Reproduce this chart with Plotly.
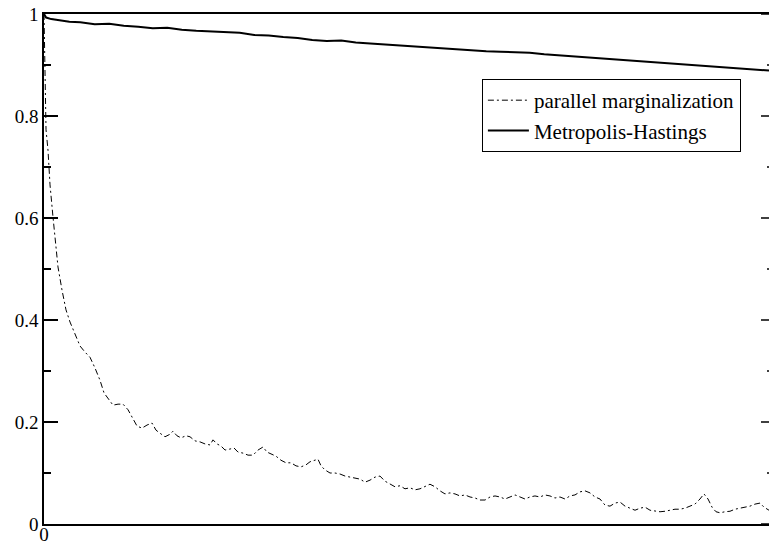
import plotly.graph_objects as go

# ---- data ----
pm_x = [0, 1.4, 2.8, 5.5, 8.3, 12.4, 16.6, 19.3, 24.8, 30.3, 35.9, 42.8, 49.7, 56.6, 63.4, 70.3,
        77.2, 82.8, 88.3, 95.2, 102.1, 109.0, 115.9, 121.4, 128.3, 135.2, 142.1, 149.0, 154.5, 160.0,
        166.9, 173.8, 177.9, 183.4, 189.0, 195.9, 201.4, 208.3, 215.2, 222.1, 229.0, 233.1, 238.6,
        244.1, 249.7, 256.6, 262.1, 267.6, 274.5, 281.4, 288.3, 295.2, 302.1, 307.6, 313.1, 320.0,
        326.9, 333.8, 340.7, 347.6, 354.5, 361.4, 366.9, 372.4, 377.9, 382.1, 387.6, 394.5, 401.4,
        408.3, 415.2, 422.1, 429.0, 435.9, 442.8, 449.7, 456.6, 463.4, 470.3, 477.2, 484.1, 491.0,
        497.9, 504.8, 511.7, 518.6, 525.5, 532.4, 539.3, 546.2, 553.1, 560.0, 566.9, 573.8, 580.7,
        587.6, 594.5, 601.4, 608.3, 615.2, 622.1, 629.0, 635.9, 642.8, 649.7, 656.6, 663.4, 670.3,
        677.2, 684.1, 691.0, 697.9, 704.8, 711.7, 718.6, 725.5, 732.4, 739.3, 746.2, 753.1, 760.0,
        766.9, 773.8, 780.7, 787.6, 794.5, 801.4, 808.3, 815.2, 822.1, 829.0, 835.9, 842.8, 849.7,
        856.6, 863.4, 870.3, 877.2, 884.1, 891.0, 897.9, 904.8, 910.3, 915.9, 921.4, 926.9, 932.4,
        939.3, 946.2, 953.1, 960.0, 966.9, 973.8, 980.7, 987.6, 993.1, 1000]
pm_y = [1.0, 0.831, 0.773, 0.733, 0.665, 0.602, 0.547, 0.504, 0.459, 0.420, 0.396, 0.371, 0.349, 0.337, 0.327, 0.306,
        0.282, 0.257, 0.247, 0.233, 0.235, 0.235, 0.224, 0.210, 0.192, 0.188, 0.194, 0.198, 0.184, 0.178,
        0.171, 0.176, 0.182, 0.173, 0.169, 0.173, 0.171, 0.163, 0.161, 0.157, 0.155, 0.165, 0.157,
        0.153, 0.145, 0.147, 0.149, 0.141, 0.139, 0.135, 0.135, 0.145, 0.151, 0.141, 0.137, 0.133,
        0.125, 0.120, 0.120, 0.114, 0.112, 0.116, 0.122, 0.125, 0.127, 0.114, 0.106, 0.100, 0.100,
        0.098, 0.094, 0.092, 0.090, 0.088, 0.082, 0.086, 0.092, 0.094, 0.084, 0.078, 0.073, 0.075,
        0.069, 0.071, 0.067, 0.069, 0.073, 0.078, 0.073, 0.065, 0.059, 0.061, 0.059, 0.055, 0.057,
        0.053, 0.051, 0.047, 0.047, 0.053, 0.055, 0.053, 0.049, 0.053, 0.057, 0.053, 0.049, 0.053,
        0.055, 0.053, 0.057, 0.055, 0.051, 0.053, 0.049, 0.055, 0.057, 0.063, 0.065, 0.061, 0.053,
        0.049, 0.037, 0.035, 0.041, 0.043, 0.035, 0.031, 0.027, 0.031, 0.033, 0.027, 0.025, 0.024,
        0.025, 0.027, 0.029, 0.029, 0.031, 0.035, 0.039, 0.049, 0.059, 0.049, 0.033, 0.024, 0.022,
        0.024, 0.025, 0.029, 0.031, 0.033, 0.035, 0.039, 0.041, 0.033, 0.027]

mh_x = [0, 3, 10, 20, 35, 50, 70, 90, 110, 130, 150, 170, 190, 210, 230, 250, 270, 290, 310, 330,
        350, 370, 390, 410, 430, 450, 470, 490, 510, 530, 550, 570, 590, 610, 630, 650, 670, 690,
        710, 730, 750, 770, 790, 810, 830, 850, 870, 890, 910, 930, 950, 970, 990, 1000]
mh_y = [1.000, 0.993, 0.990, 0.988, 0.985, 0.984, 0.980, 0.981, 0.977, 0.975, 0.972, 0.973, 0.969,
        0.967, 0.966, 0.964, 0.963, 0.959, 0.958, 0.955, 0.953, 0.949, 0.947, 0.948, 0.944, 0.942,
        0.940, 0.938, 0.936, 0.934, 0.933, 0.931, 0.929, 0.927, 0.926, 0.925, 0.924, 0.921, 0.919,
        0.917, 0.914, 0.912, 0.911, 0.908, 0.906, 0.905, 0.903, 0.900, 0.898, 0.897, 0.895, 0.893,
        0.891, 0.889]

y_tick_vals = [0, 0.2, 0.4, 0.6, 0.8, 1]
y_tick_text = ["0", "0.2", "0.4", "0.6", "0.8", "1"]
y_minor_vals = [0.1, 0.3, 0.5, 0.7, 0.9]
x_tick_vals = [0]
x_tick_text = ["0"]

FONT = "Liberation Serif, Times New Roman, serif"

fig = go.Figure()
fig.add_trace(go.Scatter(x=pm_x, y=pm_y, mode="lines", name="parallel marginalization",
                         line=dict(color="black", width=1, dash="6px,3px,2px,3px")))
fig.add_trace(go.Scatter(x=mh_x, y=mh_y, mode="lines", name="Metropolis-Hastings",
                         line=dict(color="black", width=2)))

# right-side mirrored ticks (the right axis sits just beyond the visible frame)
shapes = []
for v in y_tick_vals:
    shapes.append(dict(type="line", xref="paper", yref="y", xsizemode="pixel", xanchor=1,
                       x0=-8, x1=0, y0=v, y1=v, line=dict(color="black", width=1.5)))
for v in y_minor_vals:
    shapes.append(dict(type="line", xref="paper", yref="y", xsizemode="pixel", xanchor=1,
                       x0=-2, x1=0, y0=v, y1=v, line=dict(color="black", width=1.5)))

fig.update_layout(
    width=769, height=546,
    margin=dict(l=44, r=0, t=14, b=22),
    paper_bgcolor="white", plot_bgcolor="white",
    font=dict(family=FONT, size=19, color="black"),
    showlegend=True,
    legend=dict(x=0.604, y=0.8725, xanchor="left", yanchor="top",
                bgcolor="white", bordercolor="black", borderwidth=1,
                font=dict(family=FONT, size=21, color="black"),
                itemwidth=41, tracegroupgap=0),
    shapes=shapes,
    xaxis=dict(range=[0, 1000], tickvals=x_tick_vals, ticktext=x_tick_text, ticks="", ticklen=0,
               ticklabelstandoff=-8,
               showgrid=False, zeroline=False, showline=True, linecolor="black", linewidth=1.5,
               mirror=True, automargin=False, tickfont=dict(family=FONT, size=19)),
    yaxis=dict(range=[0, 1], tickvals=y_tick_vals, ticktext=y_tick_text, ticks="inside",
               ticklen=14, tickcolor="black", tickwidth=1.5,
               minor=dict(tickvals=y_minor_vals, ticks="inside", ticklen=7, tickcolor="black", tickwidth=1.5),
               showgrid=False, zeroline=False, showline=True, linecolor="black", linewidth=1.5,
               automargin=False, tickfont=dict(family=FONT, size=19)),
)

# remove the default page margin so the figure fills the window exactly
fig.write_html("out.html", config={"displayModeBar": False},
               post_script="document.body.style.margin='0';document.body.style.overflow='hidden';")
